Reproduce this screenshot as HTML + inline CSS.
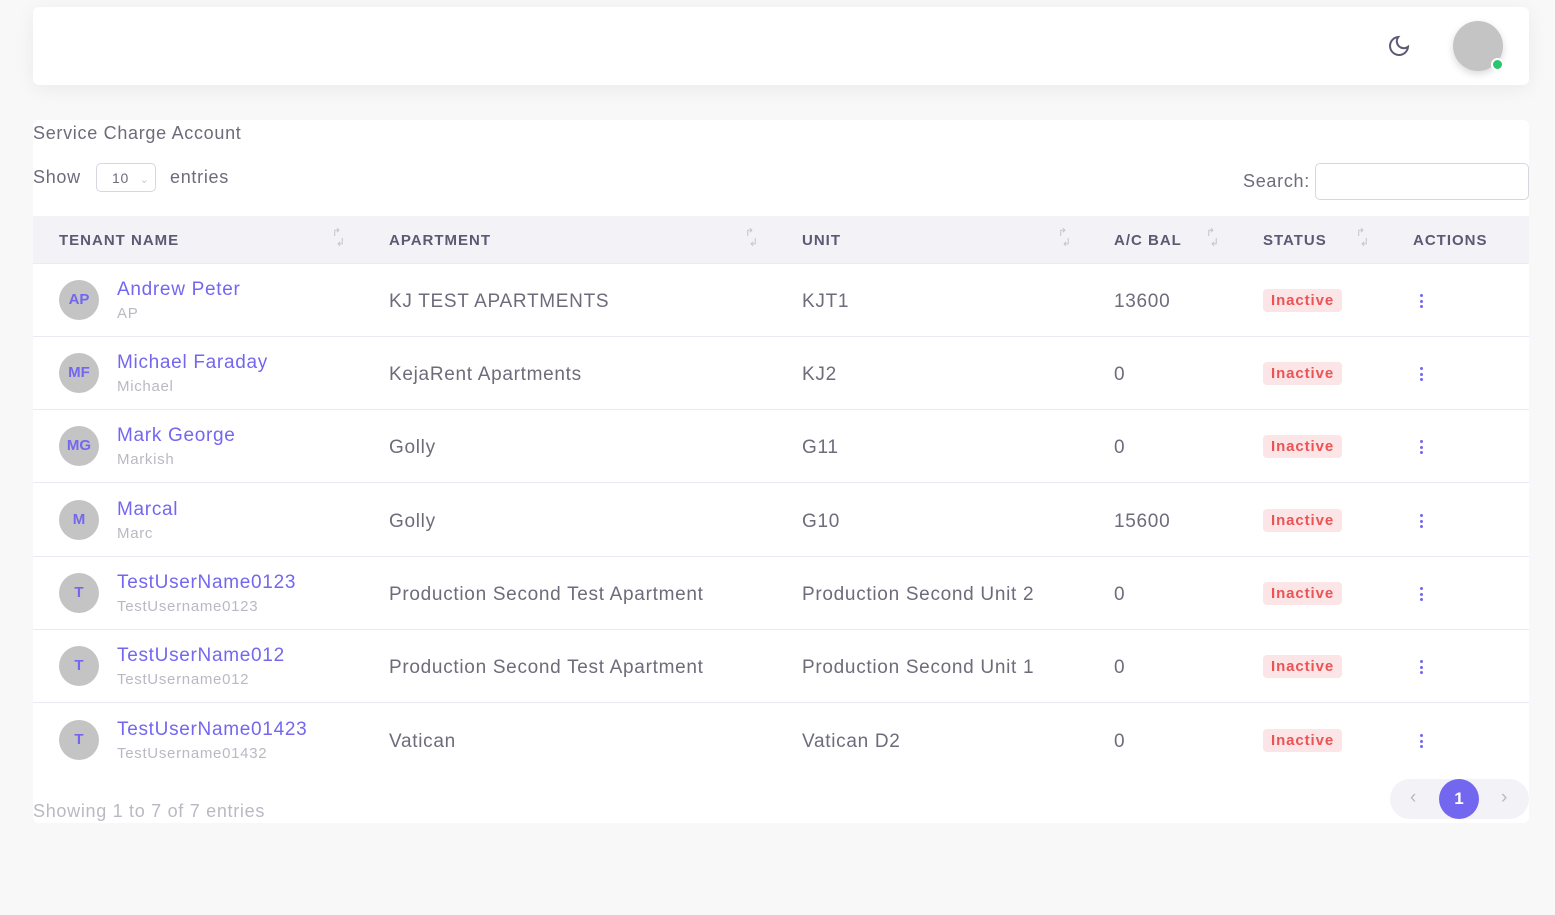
<!DOCTYPE html>
<html><head><style>
*{margin:0;padding:0;box-sizing:border-box}
body{width:1555px;height:915px;background:#f8f8f8;font-family:"Liberation Sans",sans-serif;color:#6e6b7b;position:relative;overflow:hidden;letter-spacing:.7px}
.top{position:absolute;left:33px;top:7px;width:1496px;height:78px;background:#fff;border-radius:6px;box-shadow:0 4px 20px rgba(0,0,0,.06)}
.av{position:absolute;left:1420px;top:14px;width:50px;height:50px;border-radius:50%;background:#c4c4c4;box-shadow:0 3px 8px rgba(0,0,0,.15)}
.dot{position:absolute;right:-1px;bottom:0px;width:13px;height:13px;border-radius:50%;background:#28c76f;border:2px solid #fff}
.card{position:absolute;left:33px;top:120px;width:1496px;height:703px;background:#fff;border-radius:6px}
.abs{position:absolute;white-space:nowrap}
.hdr{position:absolute;left:0;top:96px;width:1496px;height:48px;background:#f3f2f7;border-bottom:1px solid #ebe9f1}
.hdr span{position:absolute;top:16px;font-size:15px;font-weight:bold;letter-spacing:1px;color:#5e5873}
.sort{position:absolute;top:12px;font-size:11px;color:#c3c3c3;line-height:10px}
.row{position:absolute;left:0;width:1496px;height:73px;border-bottom:1px solid #ebe9f1}
.row .a{position:absolute;left:26px;top:16px;width:40px;height:40px;border-radius:50%;background:#c4c4c4;color:#7367f0;font-weight:bold;font-size:15px;text-align:center;line-height:40px;letter-spacing:0}
.row .n{position:absolute;left:84px;top:15px;font-size:19px;color:#7367f0}
.row .s{position:absolute;left:84px;top:41px;font-size:15px;color:#b9b9c3}
.row .c{position:absolute;top:27px;font-size:19px;color:#6e6b7b}
.row .b{position:absolute;left:1230px;top:25px;background:#fce5e6;color:#ea5455;font-weight:bold;font-size:15px;padding:3px 8px;border-radius:4px;letter-spacing:.9px}
.row .d{position:absolute;left:1387px;top:30px;width:3px}
.row .d i{display:block;width:3px;height:3px;border-radius:50%;background:#7367f0;margin-bottom:2.5px}
</style></head><body>
<div class="top">
<svg style="position:absolute;left:1354px;top:27px" width="24" height="24" viewBox="0 0 24 24" fill="none" stroke="#5e5873" stroke-width="2" stroke-linecap="round"><path d="M21 12.8A9 9 0 1 1 11.2 3a7 7 0 0 0 9.8 9.8z"/></svg>
<div class="av"><div class="dot"></div></div>
</div>
<div class="card">
<div class="abs" style="left:0;top:3px;font-size:18px;color:#6e6b7b">Service Charge Account</div>
<div class="abs" style="left:0;top:47px;font-size:18px">Show</div>
<div class="abs" style="left:63px;top:43px;width:60px;height:29px;border:1px solid #d8d6de;border-radius:5px;font-size:14px;padding:6px 0 0 15px">10 <span style="color:#c8c8c8;font-size:11px;margin-left:6px">&#8964;</span></div>
<div class="abs" style="left:137px;top:47px;font-size:18px">entries</div>
<div class="abs" style="left:1210px;top:51px;font-size:18px">Search:</div>
<div class="abs" style="left:1282px;top:43px;width:214px;height:37px;border:1px solid #d8d6de;border-radius:5px"></div>
<div class="hdr">
<span style="left:26px">TENANT NAME</span><div class="sort" style="left:299px">↱<br>&nbsp;↲</div>
<span style="left:356px">APARTMENT</span><div class="sort" style="left:712px">↱<br>&nbsp;↲</div>
<span style="left:769px">UNIT</span><div class="sort" style="left:1025px">↱<br>&nbsp;↲</div>
<span style="left:1081px">A/C BAL</span><div class="sort" style="left:1173px">↱<br>&nbsp;↲</div>
<span style="left:1230px">STATUS</span><div class="sort" style="left:1323px">↱<br>&nbsp;↲</div>
<span style="left:1380px">ACTIONS</span>
</div>
<div class="row" style="top:144px"><div class="a">AP</div><div class="n">Andrew Peter</div><div class="s">AP</div><div class="c" style="left:356px">KJ TEST APARTMENTS</div><div class="c" style="left:769px">KJT1</div><div class="c" style="left:1081px">13600</div><div class="b">Inactive</div><div class="d"><i></i><i></i><i></i></div></div>
<div class="row" style="top:217px"><div class="a">MF</div><div class="n">Michael Faraday</div><div class="s">Michael</div><div class="c" style="left:356px">KejaRent Apartments</div><div class="c" style="left:769px">KJ2</div><div class="c" style="left:1081px">0</div><div class="b">Inactive</div><div class="d"><i></i><i></i><i></i></div></div>
<div class="row" style="top:290px"><div class="a">MG</div><div class="n">Mark George</div><div class="s">Markish</div><div class="c" style="left:356px">Golly</div><div class="c" style="left:769px">G11</div><div class="c" style="left:1081px">0</div><div class="b">Inactive</div><div class="d"><i></i><i></i><i></i></div></div>
<div class="row" style="top:364px"><div class="a">M</div><div class="n">Marcal</div><div class="s">Marc</div><div class="c" style="left:356px">Golly</div><div class="c" style="left:769px">G10</div><div class="c" style="left:1081px">15600</div><div class="b">Inactive</div><div class="d"><i></i><i></i><i></i></div></div>
<div class="row" style="top:437px"><div class="a">T</div><div class="n">TestUserName0123</div><div class="s">TestUsername0123</div><div class="c" style="left:356px">Production Second Test Apartment</div><div class="c" style="left:769px">Production Second Unit 2</div><div class="c" style="left:1081px">0</div><div class="b">Inactive</div><div class="d"><i></i><i></i><i></i></div></div>
<div class="row" style="top:510px"><div class="a">T</div><div class="n">TestUserName012</div><div class="s">TestUsername012</div><div class="c" style="left:356px">Production Second Test Apartment</div><div class="c" style="left:769px">Production Second Unit 1</div><div class="c" style="left:1081px">0</div><div class="b">Inactive</div><div class="d"><i></i><i></i><i></i></div></div>
<div class="row" style="top:584px;border-bottom:none"><div class="a">T</div><div class="n">TestUserName01423</div><div class="s">TestUsername01432</div><div class="c" style="left:356px">Vatican</div><div class="c" style="left:769px">Vatican D2</div><div class="c" style="left:1081px">0</div><div class="b">Inactive</div><div class="d"><i></i><i></i><i></i></div></div>
<div class="abs" style="left:0;top:681px;font-size:18px;color:#b9b9c3">Showing 1 to 7 of 7 entries</div>
<div class="abs" style="left:1357px;top:659px;width:139px;height:40px;background:#f3f2f7;border-radius:20px">
<span class="abs" style="left:20px;top:8px;color:#b9b9c3;font-size:19px">‹</span>
<div class="abs" style="left:49px;top:0;width:40px;height:40px;border-radius:50%;background:#7367f0;color:#fff;font-weight:bold;font-size:17px;text-align:center;line-height:40px;letter-spacing:0">1</div>
<span class="abs" style="left:111px;top:8px;color:#b9b9c3;font-size:19px">›</span>
</div>
</div>
</body></html>
